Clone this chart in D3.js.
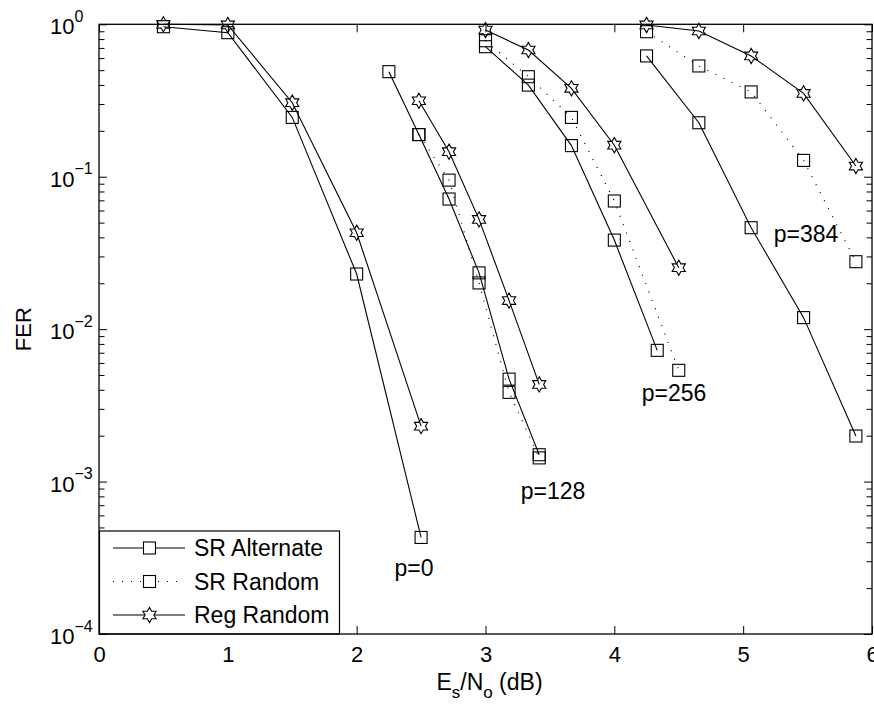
<!DOCTYPE html>
<html>
<head>
<meta charset="utf-8">
<script src="https://cdn.jsdelivr.net/npm/d3@7"></script>
<style>
  html, body { margin: 0; padding: 0; background: #fff; }
  svg { display: block; font-family: "Liberation Sans", Arial, Helvetica, sans-serif; }
</style>
</head>
<body>
<svg id="chart" width="874" height="707"></svg>
<script>
// Es/No operating points (dB) for each puncturing level p
const esnoP0   = [0.5, 1.0, 1.5, 2.0, 2.5];
const esnoP128 = [2.25, 2.483, 2.717, 2.95, 3.183, 3.417];
const esnoP256 = [3.0, 3.333, 3.667, 4.0, 4.333, 4.5];
const esnoP384 = [4.25, 4.656, 5.062, 5.469, 5.875];

// Frame error rates (null = not simulated at that point)
const srAlternateP0   = [0.964, 0.881, 0.245, 0.023, 0.00043];
const srAlternateP128 = [0.489, 0.189, 0.0714, 0.0234, 0.0047, 0.0015];
const srAlternateP256 = [0.713, 0.399, 0.16, 0.0384, 0.00726, null];
const srAlternateP384 = [0.62, 0.226, 0.0463, 0.0119, 0.00199];

const srRandomP128 = [null, 0.189, 0.095, 0.0201, 0.00385, 0.00143];
const srRandomP256 = [0.78, 0.453, 0.245, 0.0693, null, 0.00537];
const srRandomP384 = [0.894, 0.533, 0.36, 0.128, 0.0277];

const regRandomP0   = [1.0, 0.99, 0.306, 0.0429, 0.00231];
const regRandomP128 = [null, 0.315, 0.146, 0.0525, 0.0154, 0.00434];
const regRandomP256 = [0.917, 0.678, 0.38, 0.161, null, 0.0253];
const regRandomP384 = [0.99, 0.904, 0.62, 0.352, 0.1175];

const groupLabels = ["p=0", "p=128", "p=256", "p=384"];
const xTicks = [0, 1, 2, 3, 4, 5, 6];
const yTickExponents = [0, -1, -2, -3, -4];
const legendNames = ["SR Alternate", "SR Random", "Reg Random"];

// ---- layout ----
const svg = d3.select("#chart");
const plotL = 99, plotR = 872, plotT = 24.3, plotB = 634;
const x = d3.scaleLinear().domain([0, 6]).range([plotL, plotR]);
const y = d3.scaleLog().domain([1e-4, 1]).range([plotB, plotT]);

const pair = (xs, ys) => xs.map((v, i) => [v, ys[i]]).filter(d => d[1] != null);

const series = [
  { style: "alt",  marker: "square", pts: pair(esnoP0, srAlternateP0) },
  { style: "alt",  marker: "square", pts: pair(esnoP128, srAlternateP128) },
  { style: "alt",  marker: "square", pts: pair(esnoP256, srAlternateP256) },
  { style: "alt",  marker: "square", pts: pair(esnoP384, srAlternateP384) },
  { style: "rand", marker: "square", pts: pair(esnoP128, srRandomP128) },
  { style: "rand", marker: "square", pts: pair(esnoP256, srRandomP256) },
  { style: "rand", marker: "square", pts: pair(esnoP384, srRandomP384) },
  { style: "reg",  marker: "star",   pts: pair(esnoP0, regRandomP0) },
  { style: "reg",  marker: "star",   pts: pair(esnoP128, regRandomP128) },
  { style: "reg",  marker: "star",   pts: pair(esnoP256, regRandomP256) },
  { style: "reg",  marker: "star",   pts: pair(esnoP384, regRandomP384) }
];

// six-pointed star outline centred on the origin
function hexagramPath(R) {
  const r = R / Math.sqrt(3);
  const pts = d3.range(12).map(k => {
    const a = (-90 + 30 * k) * Math.PI / 180;
    const rad = k % 2 === 0 ? R : r;
    return [rad * Math.cos(a), rad * Math.sin(a)];
  });
  return "M" + pts.map(p => p[0].toFixed(2) + "," + p[1].toFixed(2)).join("L") + "Z";
}
const starD = hexagramPath(7.6);
const sq = 12;

function drawMarker(g, kind, cx, cy, fill) {
  if (kind === "square") {
    g.append("rect").attr("x", cx - sq / 2).attr("y", cy - sq / 2)
      .attr("width", sq).attr("height", sq)
      .attr("fill", fill).attr("stroke", "#000").attr("stroke-width", 1.1);
  } else {
    g.append("path").attr("d", starD).attr("transform", `translate(${cx},${cy})`)
      .attr("fill", fill).attr("stroke", "#000").attr("stroke-width", 1.1);
  }
}

const dashFor = s => s === "rand" ? "1 8" : null;

// ---- curves ----
const line = d3.line().x(d => x(d[0])).y(d => y(d[1]));
const plot = svg.append("g");
series.forEach(s => {
  plot.append("path").datum(s.pts).attr("d", line)
    .attr("fill", "none").attr("stroke", "#000")
    .attr("stroke-width", s.style === "rand" ? 1.2 : 1.1)
    .attr("stroke-dasharray", dashFor(s.style));
});
series.forEach(s => {
  const g = plot.append("g");
  s.pts.forEach(d => drawMarker(g, s.marker, x(d[0]), y(d[1]), "none"));
});

// ---- curve group annotations ----
const labelPos = [[414, 576], [553, 499], [674, 401], [806, 242]];
groupLabels.forEach((t, i) => {
  svg.append("text").attr("x", labelPos[i][0]).attr("y", labelPos[i][1])
    .attr("text-anchor", "middle").attr("font-size", 23).attr("fill", "#000").text(t);
});

// ---- axes ----
const axes = svg.append("g");
const tickMajor = 8, tickMinor = 5.5;

axes.append("g").attr("transform", `translate(0,${plotB})`)
  .call(d3.axisBottom(x).tickValues(xTicks).tickSize(-tickMajor).tickSizeOuter(0).tickPadding(12).tickFormat(d3.format("d")))
  .call(g => { g.select(".domain").remove(); g.selectAll("text").attr("font-size", 22).attr("fill", "#000"); });
axes.selectAll("g").attr("font-family", null);

axes.append("g").attr("transform", `translate(0,${plotT})`)
  .call(d3.axisTop(x).tickValues(xTicks).tickSize(-tickMajor).tickSizeOuter(0).tickFormat(""))
  .call(g => g.select(".domain").remove());

const majors = yTickExponents.map(e => Math.pow(10, e));
const minors = [];
for (let e = -4; e < 0; e++) for (let m = 2; m <= 9; m++) minors.push(m * Math.pow(10, e));

axes.append("g").attr("transform", `translate(${plotL},0)`)
  .call(d3.axisLeft(y).tickValues(majors).tickSize(-tickMajor).tickSizeOuter(0).tickFormat(""))
  .call(g => g.select(".domain").remove());
axes.append("g").attr("transform", `translate(${plotL},0)`)
  .call(d3.axisLeft(y).tickValues(minors).tickSize(-tickMinor).tickSizeOuter(0).tickFormat(""))
  .call(g => g.select(".domain").remove());
axes.append("g").attr("transform", `translate(${plotR},0)`)
  .call(d3.axisRight(y).tickValues(majors).tickSize(-tickMajor).tickSizeOuter(0).tickFormat(""))
  .call(g => g.select(".domain").remove());
axes.append("g").attr("transform", `translate(${plotR},0)`)
  .call(d3.axisRight(y).tickValues(minors).tickSize(-tickMinor).tickSizeOuter(0).tickFormat(""))
  .call(g => g.select(".domain").remove());

// decade labels 10^n
yTickExponents.forEach(e => {
  const t = svg.append("text").attr("x", 50).attr("y", y(Math.pow(10, e)) + 10)
    .attr("font-size", 22).attr("fill", "#000");
  t.append("tspan").text("10");
  t.append("tspan").attr("dy", -12.5).attr("font-size", 16).text(e === 0 ? "0" : "\u2212" + Math.abs(e));
});

// axis titles
svg.append("text").attr("transform", `translate(31,${(plotT + plotB) / 2}) rotate(-90)`)
  .attr("text-anchor", "middle").attr("font-size", 22).attr("fill", "#000").text("FER");

const xt = svg.append("text").attr("x", (plotL + plotR) / 2 + 4).attr("y", 690)
  .attr("text-anchor", "middle").attr("font-size", 23).attr("fill", "#000");
xt.append("tspan").text("E");
xt.append("tspan").attr("dy", 8).attr("font-size", 17).text("s");
xt.append("tspan").attr("dy", -8).text("/N");
xt.append("tspan").attr("dy", 8).attr("font-size", 17).text("o");
xt.append("tspan").attr("dy", -8).text(" (dB)");

// ---- legend ----
const legend = svg.append("g");
legend.append("rect").attr("x", plotL + 0.5).attr("y", 531).attr("width", 240).attr("height", plotB - 531)
  .attr("fill", "#fff").attr("stroke", "#000").attr("stroke-width", 1.2);
const legendStyles = [["alt", "square"], ["rand", "square"], ["reg", "star"]];
legendNames.forEach((name, i) => {
  const cy = 548 + i * 33.5;
  legend.append("line").attr("x1", 113).attr("x2", 185).attr("y1", cy).attr("y2", cy)
    .attr("stroke", "#000").attr("stroke-width", 1.1).attr("stroke-dasharray", dashFor(legendStyles[i][0]));
  drawMarker(legend.append("g"), legendStyles[i][1], 149.5, cy, "#fff");
  legend.append("text").attr("x", 194).attr("y", cy + 8).attr("font-size", 23).attr("fill", "#000").text(name);
});

// ---- frame ----
svg.append("rect").attr("x", plotL).attr("y", plotT).attr("width", plotR - plotL).attr("height", plotB - plotT)
  .attr("fill", "none").attr("stroke", "#000").attr("stroke-width", 1.3);
</script>
</body>
</html>
